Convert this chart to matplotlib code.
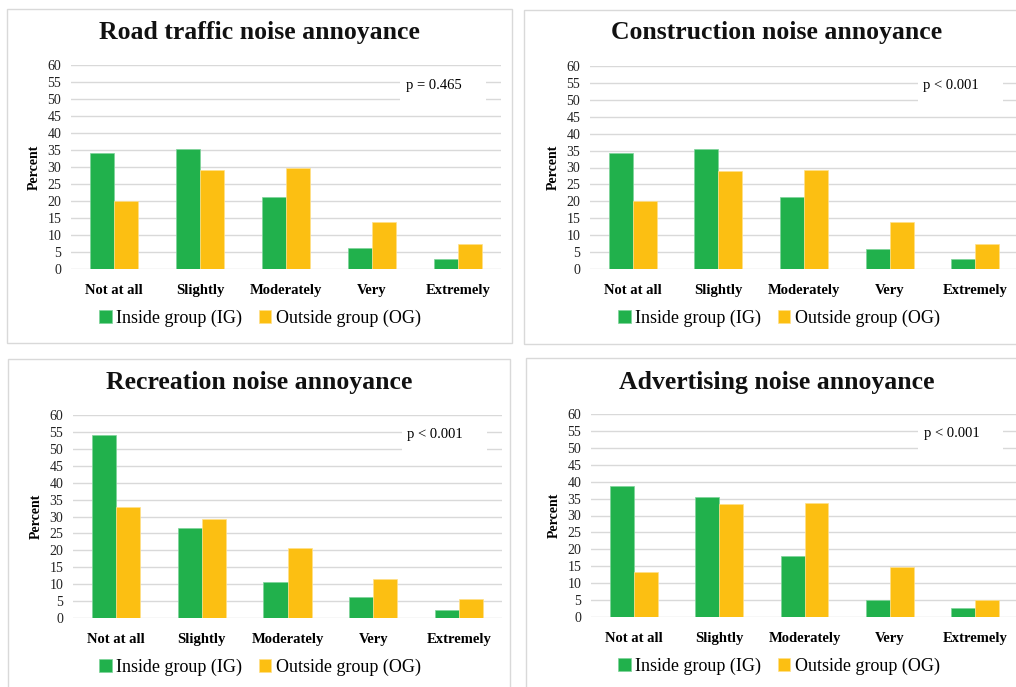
import numpy as np
import matplotlib
matplotlib.use("Agg")
import matplotlib.pyplot as plt
from matplotlib.patches import Rectangle

plt.rcParams['font.family'] = ['Liberation Serif', 'DejaVu Serif']

categories = ["Not at all", "Slightly", "Moderately", "Very", "Extremely"]
series_names = ["Inside group (IG)", "Outside group (OG)"]

titles = ["Road traffic noise annoyance", "Construction noise annoyance",
          "Recreation noise annoyance", "Advertising noise annoyance"]
p_labels = ["p = 0.465", "p < 0.001", "p < 0.001", "p < 0.001"]

road_ig = [34.2, 35.4, 21.3, 6.1, 2.9]
road_og = [20.1, 29.1, 29.7, 13.8, 7.5]
construction_ig = [34.2, 35.4, 21.3, 6.0, 3.0]
construction_og = [20.0, 29.0, 29.4, 13.8, 7.3]
recreation_ig = [54.1, 26.7, 10.5, 6.1, 2.5]
recreation_og = [32.7, 29.3, 20.7, 11.4, 5.5]
advertising_ig = [38.6, 35.4, 17.9, 5.0, 2.6]
advertising_og = [13.2, 33.3, 33.6, 14.7, 4.9]

GREEN = "#21b14c"
GOLD = "#fcbf12"
GRID = "#d9d9d9"

W, H = 1016, 687
fig = plt.figure(figsize=(W / 100, H / 100), dpi=100)


def fx(px):
    return px / W


def fy(py):
    return 1 - py / H


# panel frame (left, top, right, bottom) and plot area (left, top, right, bottom) in pixels
panels = [
    dict(box=(7, 9, 512, 343), area=(71, 65, 501, 269), title_y=33, legend_y=318,
         ig=road_ig, og=road_og),
    dict(box=(524, 10, 1030, 344), area=(590, 66, 1018, 269), title_y=33, legend_y=318,
         ig=construction_ig, og=construction_og),
    dict(box=(8, 359, 510, 700), area=(73, 415, 502, 618), title_y=382, legend_y=667,
         ig=recreation_ig, og=recreation_og),
    dict(box=(526, 358, 1030, 700), area=(591, 414, 1018, 617), title_y=382, legend_y=666,
         ig=advertising_ig, og=advertising_og),
]

x = np.arange(len(categories))
bw = 0.28

for i, p in enumerate(panels):
    l, t, r, b = p["box"]
    fig.patches.append(Rectangle((fx(l), fy(b)), fx(r - l), (b - t) / H,
                                 transform=fig.transFigure, fill=False,
                                 edgecolor=GRID, linewidth=1.0))
    al, at, ar, ab = p["area"]
    ax = fig.add_axes([fx(al), fy(ab), fx(ar - al), (ab - at) / H])
    ax.set_facecolor("none")
    b1 = ax.bar(x - bw / 2, p["ig"], bw, color=GREEN, edgecolor="#7fd39a",
                linewidth=0.5, label=series_names[0], zorder=3)
    b2 = ax.bar(x + bw / 2, p["og"], bw, color=GOLD, edgecolor="#ffe08a",
                linewidth=0.5, label=series_names[1], zorder=3)
    ax.set_xlim(-0.5, len(categories) - 0.5)
    ax.set_ylim(0, 60)
    ax.set_yticks(np.arange(0, 61, 5))
    ax.yaxis.grid(True, color=GRID, linewidth=1.0, zorder=0)
    ax.set_axisbelow(True)
    for s in ax.spines.values():
        s.set_visible(False)
    ax.tick_params(axis="both", length=0)
    ax.tick_params(axis="y", labelsize=10, pad=7, labelcolor="#222222")
    ax.set_xticks(x)
    ax.set_xticklabels(categories, fontsize=10.5, fontweight="bold")
    ax.tick_params(axis="x", pad=11)
    ax.set_ylabel("Percent", fontsize=10, fontweight="bold", labelpad=5)

    # white text box holding the p-value, covering the gridlines behind it
    ax.add_patch(Rectangle((3.33, 49.2), 1.0, 8.6, facecolor="white",
                           edgecolor="none", zorder=4))
    ax.text(3.72, 54.1, p_labels[i], fontsize=10.5, ha="center", va="center",
            zorder=5)

    cx = fx((l + r) / 2) if i % 2 == 0 else fx(777)
    fig.text(cx, fy(p["title_y"]), titles[i], fontsize=18.5, fontweight="bold",
             ha="center", va="center", color="#111111")
    leg_x = fx(260) if i % 2 == 0 else fx(779)
    fig.legend(handles=[b1, b2], labels=series_names, loc="center",
               bbox_to_anchor=(leg_x, fy(p["legend_y"])), ncol=2, frameon=False,
               fontsize=13, handlelength=0.7, handleheight=0.7,
               handletextpad=0.25, columnspacing=0.9, borderaxespad=0)

fig.savefig("out.png", dpi=100, facecolor="white")
